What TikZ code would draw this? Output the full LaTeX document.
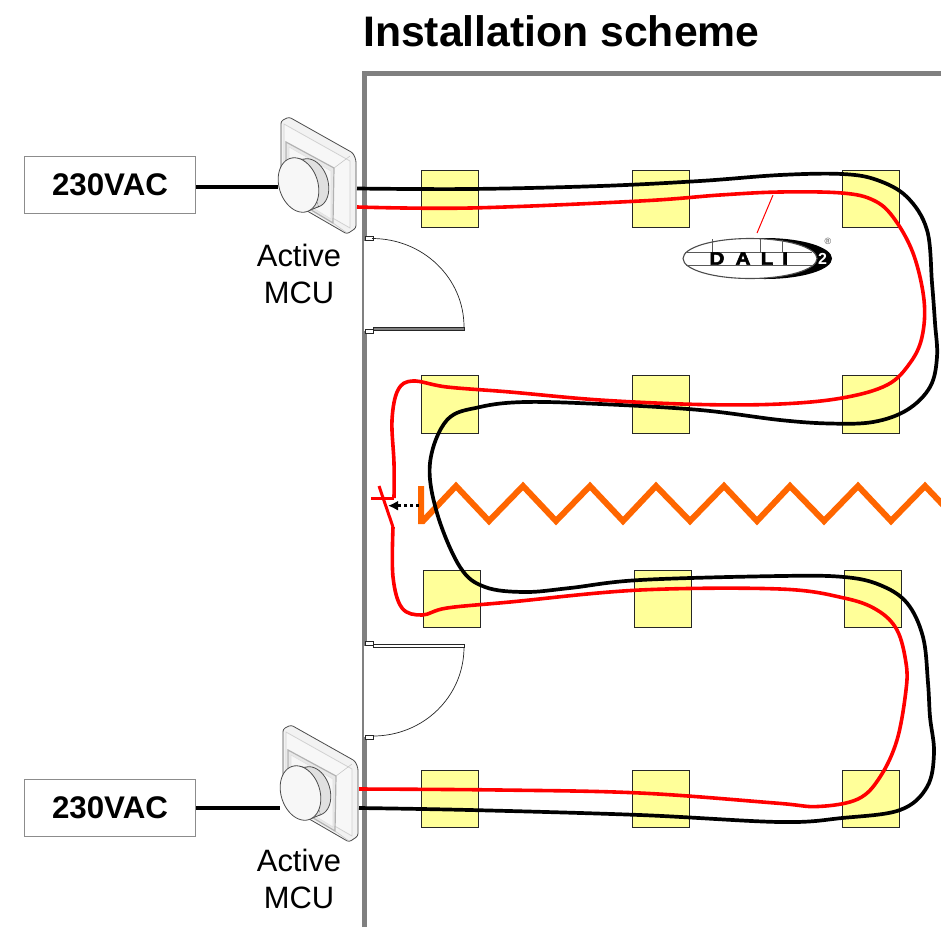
\documentclass[tikz,border=0pt]{standalone}
\usepackage{fontspec}
\setmainfont{Liberation Sans}
\newfontfamily\dalifont[BoldFeatures={FakeBold=3,FakeStretch=1.15}]{Liberation Sans}
\usetikzlibrary{arrows.meta}
\definecolor{wallgray}{HTML}{808080}
\definecolor{lampfill}{HTML}{FFFF99}
\definecolor{wirered}{HTML}{FF0000}
\definecolor{heatorange}{HTML}{FF6600}
\tikzset{
  lamp/.style={draw=black!85,line width=1pt,fill=lampfill,minimum width=57.5pt,minimum height=57.5pt,inner sep=0pt,outer sep=0pt},
  supply/.style={draw=gray!90,line width=1pt,fill=white,minimum width=171.5pt,minimum height=57pt,inner sep=0pt,font=\fontsize{31.3}{31.3}\selectfont\bfseries},
  mculabel/.style={align=center,inner sep=0pt,font=\fontsize{30.9}{37}\selectfont},
  blackwire/.style={draw=black,line width=3.7pt,line cap=butt,line join=round},
  redwire/.style={draw=wirered,line width=3.6pt,line cap=butt,line join=round},
  doorline/.style={draw=black!85,line width=.7pt},
  knobline/.style={draw=black!70,line width=.8pt},
}
% ellipse in screen coordinates: centre, major radius, minor radius
\newcommand{\knobell}[4]{plot[smooth cycle,samples=48,domain=0:352.5] ({#1+#3*cos(\x)*0.30+#4*sin(\x)*0.95},{#2+#3*cos(\x)*0.95-#4*sin(\x)*0.30})}
\newcommand{\mydimmer}[2]{%
\begin{scope}[shift={(#1,#2)}]
  \draw[knobline,fill=black!5,rounded corners=2.5pt] (281,121)--(289,117)--(353,153)--(356,160)--(356,228)--(347,234)--(283,197)--(281,193)--cycle;
  \draw[draw=black!18,line width=.8pt,fill=black!3] (284,124)--(350,161)--(350,228)--(284,190)--cycle;
  \draw[draw=black!30,line width=1.2pt,fill=black!9] (286,142)--(334,168)--(333,223)--(286,195)--cycle;
  \draw[draw=black!12,line width=.6pt,fill=black!3] (289,147)--(331,171)--(331,219)--(289,193)--cycle;
  \draw[draw=black!22,line width=.6pt] (334,168)--(350,156) (333,223)--(347,233);
  \draw[knobline,fill=black!12] \knobell{311}{183}{25}{17};
  \fill[left color=black!2,right color=black!14] (289.6,158.4)--(303.5,159.3)--(318.5,206.7)--(306.4,211.6)--cycle;
  \draw[knobline] (289.6,158.4)--(303.5,159.3) (318.5,206.7)--(306.4,211.6);
  \draw[knobline,fill=black!3] \knobell{298.5}{185}{28}{19.5};
\end{scope}}
\begin{document}
\begin{tikzpicture}[x=1pt,y=-1pt]
\useasboundingbox (0,0) rectangle (941,927);
\fill[white] (0,0) rectangle (941,927);
\node[anchor=base west,inner sep=0pt,font=\fontsize{42.7}{42.7}\selectfont\bfseries] (title) at (363,46) {Installation scheme};
% wall
\draw[draw=wallgray,line width=5.5pt,line join=miter] (364.7,927) -- (364.7,73.5) -- (941,73.5);
% door openings
\fill[white] (364,241) rectangle (368,331);
\fill[white] (364,646) rectangle (368,737);
% upper door
\draw[doorline,fill=white] (365,236) rectangle (373,240);
\draw[doorline,fill=white] (365,329) rectangle (373,333);
\draw[doorline] (372,238.5) .. controls (423,238.5) and (464,278) .. (464,327);
\draw[doorline,fill=gray] (373,327) rectangle (464,330);
% lower door
\draw[doorline,fill=white] (365,641) rectangle (373,645);
\draw[doorline,fill=white] (365,735) rectangle (373,739);
\draw[doorline,fill=white] (373,644) rectangle (464,647);
\draw[doorline] (464,647) .. controls (464,697) and (423,736) .. (373,736);
% lamps
\node[lamp] (l11) at (450,199) {};
\node[lamp] (l12) at (661,199) {};
\node[lamp] (l13) at (871,199) {};
\node[lamp] (l21) at (450,404.5) {};
\node[lamp] (l22) at (661,404.5) {};
\node[lamp] (l23) at (871,404.5) {};
\node[lamp] (l31) at (452,599) {};
\node[lamp] (l32) at (663,599) {};
\node[lamp] (l33) at (873,599) {};
\node[lamp] (l41) at (450,799) {};
\node[lamp] (l42) at (661,799) {};
\node[lamp] (l43) at (871,799) {};
% supplies
\node[supply] (s1) at (110,184.5) {230VAC};
\node[supply] (s2) at (110,807.5) {230VAC};
\coordinate (m1in) at (278,187);
\coordinate (m2in) at (280,808);
\coordinate (m1b) at (357,188.5);
\coordinate (m1r) at (357,207);
\coordinate (m2r) at (359,789);
\coordinate (m2b) at (359,808);
\draw[draw=black,line width=3.3pt] (s1.east |- m1in) -- (m1in);
\draw[draw=black,line width=3.3pt] (s2.east |- m2in) -- (m2in);
\mydimmer{0}{0}
\mydimmer{2}{608}
\node[mculabel] (t1) at (299,274) {Active\\MCU};
\node[mculabel] (t2) at (299,879) {Active\\MCU};
% heater zigzag
\draw[draw=heatorange,line width=6pt,line join=miter] (421,486) -- (421,521) -- (423,521) -- (456,486) -- (489,521) -- (523,486) -- (556,521) -- (590,486) -- (623,521) -- (656,486) -- (690,521) -- (724,486) -- (757,521) -- (790,486) -- (824,521) -- (858,486) -- (891,521) -- (925,486) -- (945,507);
% black wire
\draw[blackwire] plot[smooth,tension=.6] coordinates {(m1b) (470,189) (600,186) (700,181) (780,175) (842,174) (877,180) (907,197) (927,230) (932,283) (935,323) (937,357) (930,387) (907,410) (873,422) (830,423.5) (780,420) (700,410) (600,404) (525,402) (480,407) (447,420) (430,463) (437,513) (460,567) (485,587) (525,592) (570,588) (640,580) (780,576) (844,577) (880,585) (907,603) (923,637) (928,683) (930,717) (934,753) (927,787) (900,810) (842,818) (780,822) (640,815) (470,810) (m2b)};
% red wire
\coordinate (sw0) at (371,498);
\coordinate (sw1) at (394,498);
\coordinate (sw2) at (393,527);
\coordinate (sw3) at (379,486);
\draw[redwire] plot[smooth,tension=.6] coordinates {(m1r) (470,208) (640,201) (720,195) (780,192) (842,193) (873,200) (893,217) (913,253) (924,300) (922,337) (910,363) (887,385) (842,398) (780,404) (700,404.5) (600,400) (510,392) (447,387) (413,381) (398,390) (392,420) (394,463) (sw1)};
\draw[redwire,line width=3pt] (sw1) -- (sw0);
\draw[redwire,line width=3pt] (sw3) -- (sw2);
\draw[redwire] plot[smooth,tension=.6] coordinates {(sw2) (393,577) (402,608) (422,615) (447,608) (510,602) (640,590) (780,589) (844,598) (877,610) (897,630) (906,663) (906,690) (897,740) (880,777) (858,799) (818,806.5) (775,803) (640,793) (500,790) (m2r)};
% dotted arrow
\coordinate (ar1) at (419,505.7);
\coordinate (ar2) at (388,505.7);
\draw[draw=black,line width=3pt,dash pattern=on 3pt off 3pt,-{Latex[length=10pt,width=10pt]}] (ar1) -- (ar2);
% DALI logo
\coordinate (d1) at (773,195);
\coordinate (d2) at (757,233);
\draw[draw=wirered,line width=1pt] (d1) -- (d2);
\fill[black] (765,258.5) ellipse[x radius=67,y radius=20.5];
\draw[draw=black!70,fill=white,line width=1.1pt] (750,258.5) ellipse[x radius=67,y radius=20];
\draw[draw=black!65,line width=.9pt] (712,239) -- (712,253) (760,238.5) -- (760,252) (782,240) -- (782,252) (685,252.5) -- (812,252.5) (686,265) -- (813,265);
\foreach \nm/\px/\ch in {da/717/D,db/743/A,dc/767/L,dd/785/I}{
  \node[inner sep=0pt,font=\fontsize{18}{18}\selectfont\dalifont\bfseries] (\nm) at (\px,258.5) {\ch};
}
\node[text=white,inner sep=0pt,font=\fontsize{16}{16}\selectfont\bfseries] (d2n) at (822.5,259) {2};
\node[text=black!70,inner sep=0pt,font=\fontsize{9}{9}\selectfont] (dr) at (828,241) {®};
\end{tikzpicture}
\end{document}
